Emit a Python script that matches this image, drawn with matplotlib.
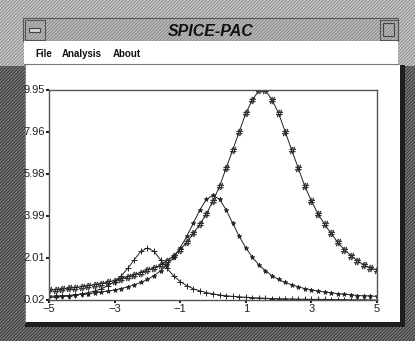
import matplotlib
matplotlib.use("Agg")
import matplotlib.pyplot as plt
from matplotlib.patches import Rectangle

plt.rcParams['font.family'] = ['Liberation Sans', 'DejaVu Sans']
plt.rcParams['hatch.linewidth'] = 0.7

# ---- data ----
x_values = [-5.0, -4.8, -4.6, -4.4, -4.2, -4.0, -3.8, -3.6, -3.4, -3.2,
            -3.0, -2.8, -2.6, -2.4, -2.2, -2.0, -1.8, -1.6, -1.4, -1.2,
            -1.0, -0.8, -0.6, -0.4, -0.2, 0.0, 0.2, 0.4, 0.6, 0.8,
            1.0, 1.2, 1.4, 1.6, 1.8, 2.0, 2.2, 2.4, 2.6, 2.8,
            3.0, 3.2, 3.4, 3.6, 3.8, 4.0, 4.2, 4.4, 4.6, 4.8, 5.0]

series_plus = [0.15, 0.17, 0.19, 0.22, 0.26, 0.31, 0.37, 0.45, 0.55, 0.70,
               0.89, 1.16, 1.51, 1.93, 2.32, 2.48, 2.32, 1.93, 1.51, 1.16,
               0.89, 0.70, 0.55, 0.45, 0.37, 0.31, 0.26, 0.22, 0.19, 0.17,
               0.15, 0.13, 0.12, 0.10, 0.09, 0.08, 0.08, 0.07, 0.06, 0.06,
               0.05, 0.05, 0.05, 0.04, 0.04, 0.04, 0.03, 0.03, 0.03, 0.02, 0.02]

series_star = [0.19, 0.21, 0.22, 0.23, 0.27, 0.29, 0.32, 0.36, 0.40, 0.44,
               0.50, 0.56, 0.64, 0.74, 0.85, 0.99, 1.17, 1.40, 1.68, 2.04,
               2.49, 3.03, 3.65, 4.28, 4.78, 4.97, 4.78, 4.28, 3.65, 3.03,
               2.49, 2.04, 1.68, 1.40, 1.17, 0.99, 0.85, 0.74, 0.64, 0.56,
               0.50, 0.44, 0.40, 0.36, 0.32, 0.29, 0.27, 0.23, 0.22, 0.21, 0.19]

series_hash = [0.47, 0.50, 0.53, 0.57, 0.60, 0.65, 0.69, 0.74, 0.80, 0.86,
               0.94, 1.02, 1.11, 1.21, 1.32, 1.44, 1.53, 1.68, 1.88, 2.12,
               2.40, 2.75, 3.17, 3.60, 4.10, 4.70, 5.40, 6.25, 7.11, 7.98,
               8.85, 9.48, 9.93, 9.93, 9.48, 8.85, 7.98, 7.11, 6.25, 5.40,
               4.70, 4.10, 3.60, 3.17, 2.75, 2.40, 2.12, 1.88, 1.68, 1.53, 1.44]

x_ticks = [-5, -3, -1, 1, 3, 5]
x_tick_labels = ['\u22125', '\u22123', '\u22121', '1', '3', '5']
y_ticks = [0.02, 2.01, 3.99, 5.98, 7.96, 9.95]
y_tick_labels = ['0.02', '2.01', '3.99', '5.98', '7.96', '9.95']
window_title = 'SPICE-PAC'
menu_items = ['File', 'Analysis', 'About']

W, H = 415, 341
fig = plt.figure(figsize=(W / 100, H / 100), dpi=100)

# ---- window chrome in pixel coordinates ----
bg = fig.add_axes([0, 0, 1, 1])
bg.set_xlim(0, W)
bg.set_ylim(H, 0)
bg.axis('off')

def rect(x, y, w, h, **kw):
    bg.add_patch(Rectangle((x, y), w, h, **kw))

fine = '/' * 10
# desktop / frame hatch (dark lower part, light upper part)
rect(0, 0, W, H, facecolor='#7c7c7c', edgecolor='#333333', hatch=fine, lw=0)
rect(0, 0, W, 66, facecolor='#c8c8c8', edgecolor='#8e8e8e', hatch=fine, lw=0)

# title bar
rect(23, 18, 375, 23, facecolor='#bcbcbc', edgecolor='#8a8a8a', hatch=fine, lw=0)
rect(23, 18, 375, 23, facecolor='none', edgecolor='#555555', lw=0.8)
rect(24.5, 19.5, 20, 20, facecolor='none', edgecolor='#555555', lw=0.8)
rect(29, 27.5, 11, 4, facecolor='#d8d8d8', edgecolor='#444444', lw=0.8)
rect(379.5, 19.5, 18, 20, facecolor='none', edgecolor='#555555', lw=0.8)
rect(383, 23, 11, 13, facecolor='none', edgecolor='#444444', lw=0.8)
bg.text(211, 31, window_title, ha='center', va='center', fontsize=11.5,
        fontweight='bold', fontstyle='italic', color='#111111')

# menu bar
rect(24, 41, 374, 23, facecolor='white', edgecolor='none')
bg.plot([24, 398], [63.5, 63.5], color='#777777', lw=0.8)
for label, px in zip(menu_items, [35, 62, 113]):
    bg.text(px, 54, label, ha='left', va='center', fontsize=7,
            fontweight='bold', color='#111111')

# plot panel
rect(25, 65, 375, 258, facecolor='white', edgecolor='none')
rect(400, 65, 5, 262, facecolor='#1e1e1e', edgecolor='none')
rect(25, 322, 380, 5, facecolor='#1e1e1e', edgecolor='none')
bg.plot([25, 25], [65, 322], color='#888888', lw=0.8)

# ---- chart axes ----
ax = fig.add_axes([49 / W, 1 - 300 / H, 328 / W, 210 / H])
ax.set_facecolor('white')
ax.plot(x_values, series_plus, color='#222222', lw=0.7, marker='+', ms=5, mew=0.7)
ax.plot(x_values, series_star, color='#222222', lw=0.7, marker='*', ms=3.5, mew=0.5)
ax.plot(x_values, series_hash, color='#222222', lw=0.7, marker='$\\#$', ms=5, mew=0.3)
ax.set_xlim(-5, 5)
ax.set_ylim(0.02, 9.95)
ax.set_xticks(x_ticks)
ax.set_xticklabels(x_tick_labels)
ax.set_yticks(y_ticks)
ax.set_yticklabels(y_tick_labels)
ax.tick_params(axis='both', direction='out', length=2, width=1.5, pad=1,
               labelsize=8, colors='#222222')
for s in ax.spines.values():
    s.set_color('#555555')
    s.set_linewidth(1.0)
for lab in ax.get_yticklabels():
    lab.set_verticalalignment('center')

fig.savefig('out.png', dpi=100)
